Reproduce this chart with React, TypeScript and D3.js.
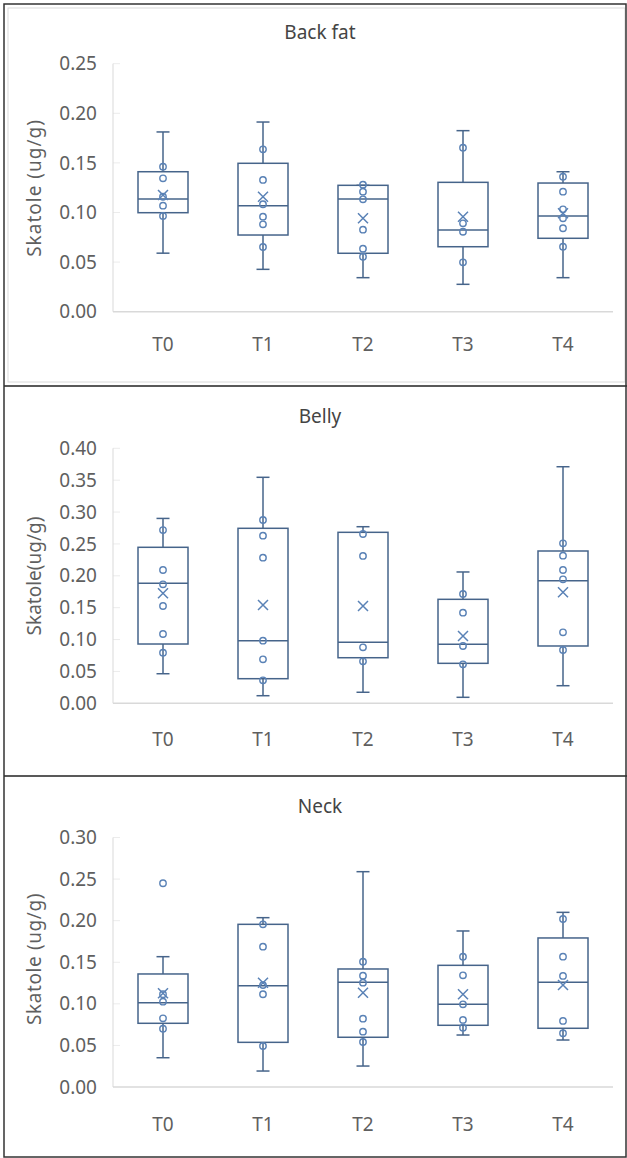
import React, { useEffect, useRef } from "react";
import * as d3 from "d3";

const categories = ["T0", "T1", "T2", "T3", "T4"];

// [min, q1, median, q3, max, mean]
const backFatStats = [
  [0.059, 0.0998, 0.1136, 0.1411, 0.1812, 0.1176],
  [0.0427, 0.0773, 0.1069, 0.1496, 0.1912, 0.1159],
  [0.0343, 0.0589, 0.1136, 0.1274, 0.1274, 0.0942],
  [0.0276, 0.0655, 0.0824, 0.1304, 0.1825, 0.0958],
  [0.0343, 0.074, 0.0965, 0.1297, 0.1411, 0.0992],
];
const backFatPoints = [
  [0.1462, 0.1345, 0.1159, 0.1069, 0.0965],
  [0.1637, 0.1328, 0.1083, 0.0958, 0.0881, 0.0652],
  [0.128, 0.121, 0.1133, 0.0827, 0.0635, 0.0554],
  [0.1653, 0.0891, 0.0806, 0.0498],
  [0.1361, 0.121, 0.1032, 0.0942, 0.0841, 0.0655],
];

const bellyStats = [
  [0.0464, 0.093, 0.1882, 0.2447, 0.29, 0.1725],
  [0.0119, 0.0386, 0.0982, 0.2745, 0.3545, 0.1542],
  [0.0173, 0.0715, 0.0957, 0.2682, 0.277, 0.1526],
  [0.0094, 0.0627, 0.0925, 0.1631, 0.206, 0.1056],
  [0.0276, 0.0899, 0.1923, 0.2389, 0.3711, 0.1741],
];
const bellyPoints = [
  [0.2718, 0.2091, 0.1867, 0.1526, 0.1087, 0.0794],
  [0.2875, 0.2629, 0.2284, 0.0982, 0.069, 0.0361],
  [0.2656, 0.2311, 0.0878, 0.0659],
  [0.1715, 0.1421, 0.0899, 0.0612],
  [0.251, 0.2315, 0.2091, 0.1945, 0.1114, 0.0836],
];

const neckStats = [
  [0.0352, 0.0766, 0.1014, 0.1359, 0.1567, 0.1127],
  [0.0192, 0.0537, 0.1218, 0.1956, 0.2036, 0.1254],
  [0.0252, 0.0598, 0.1259, 0.1419, 0.2589, 0.1134],
  [0.0625, 0.0742, 0.0994, 0.1463, 0.1876, 0.1115],
  [0.0565, 0.0706, 0.1259, 0.1792, 0.21, 0.1226],
];
const neckPoints = [
  [0.245, 0.1115, 0.1026, 0.0826, 0.0701],
  [0.1956, 0.1687, 0.1226, 0.1115, 0.0493],
  [0.1507, 0.1338, 0.1254, 0.0821, 0.0665, 0.0541],
  [0.1567, 0.1343, 0.0994, 0.0806, 0.0713],
  [0.202, 0.1567, 0.1335, 0.0794, 0.0646],
];

const panels = [
  { title: "Back fat", ylabel: "Skatole (ug/g)", yMax: 0.25, stats: backFatStats, points: backFatPoints,
    top: 63.7, bottom: 311.7, titleY: 39, catY: 351, labelY: 188, ls: 1 },
  { title: "Belly", ylabel: "Skatole(ug/g)", yMax: 0.4, stats: bellyStats, points: bellyPoints,
    top: 448.3, bottom: 703.3, titleY: 423, catY: 746, labelY: 576, ls: 0 },
  { title: "Neck", ylabel: "Skatole (ug/g)", yMax: 0.3, stats: neckStats, points: neckPoints,
    top: 837.5, bottom: 1087, titleY: 813, catY: 1131, labelY: 959, ls: 0.6 },
];

const W = 627, H = 1158;
const font = "'Noto Sans', sans-serif";
const boxColor = "#46648a";
const ptColor = "#5a82b6";
const textColor = "#5f5f5f";

export default function App() {
  const ref = useRef<SVGSVGElement>(null);

  useEffect(() => {
    const svg = d3.select(ref.current);
    svg.selectAll("*").remove();
    svg.append("rect").attr("width", W).attr("height", H).attr("fill", "#fff");

    const x = d3.scaleBand().domain(categories).range([113, 613]);
    const bw = 50;

    panels.forEach((p) => {
      const y = d3.scaleLinear().domain([0, p.yMax]).range([p.bottom, p.top]);
      const g = svg.append("g");

      g.append("text").attr("x", 320).attr("y", p.titleY).attr("text-anchor", "middle")
        .attr("font-family", font).attr("font-size", 19).attr("fill", "#444").text(p.title);

      g.append("text")
        .attr("transform", `translate(34,${p.labelY}) rotate(-90)`)
        .attr("text-anchor", "middle").attr("dy", "0.35em").attr("letter-spacing", p.ls)
        .attr("font-family", font).attr("font-size", 19).attr("fill", textColor).text(p.ylabel);

      const ticks = d3.range(0, p.yMax + 0.001, 0.05);
      g.selectAll(".tl").data(ticks).join("text")
        .attr("x", 97).attr("y", (d) => y(d)).attr("dy", "0.35em").attr("text-anchor", "end")
        .attr("font-family", font).attr("font-size", 19).attr("fill", textColor)
        .text((d) => d3.format(".2f")(d));
      g.selectAll(".tk").data(ticks.slice(1)).join("line")
        .attr("x1", 113).attr("x2", 120).attr("y1", (d) => y(d)).attr("y2", (d) => y(d))
        .attr("stroke", "#ececec");

      g.append("line").attr("x1", 113).attr("x2", 113).attr("y1", y(p.yMax)).attr("y2", y(0))
        .attr("stroke", "#d9d9d9");
      g.append("line").attr("x1", 113).attr("x2", 613).attr("y1", y(0)).attr("y2", y(0))
        .attr("stroke", "#d9d9d9").attr("stroke-width", 1.5);

      g.selectAll(".cat").data(categories).join("text")
        .attr("x", (d) => x(d)! + x.bandwidth() / 2).attr("y", p.catY).attr("text-anchor", "middle")
        .attr("font-family", font).attr("font-size", 19).attr("fill", textColor).text((d) => d);

      p.stats.forEach((s, i) => {
        const [mn, q1, med, q3, mx, mean] = s;
        const cx = x(categories[i])! + x.bandwidth() / 2;
        const b = g.append("g").attr("stroke", boxColor).attr("stroke-width", 1.5).attr("fill", "none");
        b.append("line").attr("x1", cx).attr("x2", cx).attr("y1", y(mx)).attr("y2", y(q3));
        b.append("line").attr("x1", cx).attr("x2", cx).attr("y1", y(q1)).attr("y2", y(mn));
        b.append("line").attr("x1", cx - 6.5).attr("x2", cx + 6.5).attr("y1", y(mx)).attr("y2", y(mx));
        b.append("line").attr("x1", cx - 6.5).attr("x2", cx + 6.5).attr("y1", y(mn)).attr("y2", y(mn));
        b.append("rect").attr("x", cx - bw / 2).attr("y", y(q3)).attr("width", bw).attr("height", y(q1) - y(q3))
          .attr("fill", "#fff");
        b.append("line").attr("x1", cx - bw / 2).attr("x2", cx + bw / 2).attr("y1", y(med)).attr("y2", y(med));

        g.selectAll(null).data(p.points[i]).join("circle")
          .attr("cx", cx).attr("cy", (d) => y(d)).attr("r", 3.2)
          .attr("fill", "none").attr("stroke", ptColor).attr("stroke-width", 1.4);

        const m = 5, my = y(mean);
        g.append("path").attr("d", `M${cx - m},${my - m}L${cx + m},${my + m}M${cx - m},${my + m}L${cx + m},${my - m}`)
          .attr("stroke", ptColor).attr("stroke-width", 1.5).attr("fill", "none");
      });
    });

    // frames
    svg.append("rect").attr("x", 8).attr("y", 8).attr("width", 617).attr("height", 374)
      .attr("fill", "none").attr("stroke", "#d9d9d9");
    svg.append("line").attr("x1", 4).attr("x2", W).attr("y1", 386).attr("y2", 386).attr("stroke", "#222").attr("stroke-width", 1.5);
    svg.append("line").attr("x1", 4).attr("x2", W).attr("y1", 776).attr("y2", 776).attr("stroke", "#222").attr("stroke-width", 1.5);
    svg.append("rect").attr("x", 4).attr("y", 4).attr("width", 622).attr("height", 1153)
      .attr("fill", "none").attr("stroke", "#333").attr("stroke-width", 1.5);
  }, []);

  return (
    <svg ref={ref} width={W} height={H} style={{ position: "absolute", left: 0, top: 0 }} />
  );
}
